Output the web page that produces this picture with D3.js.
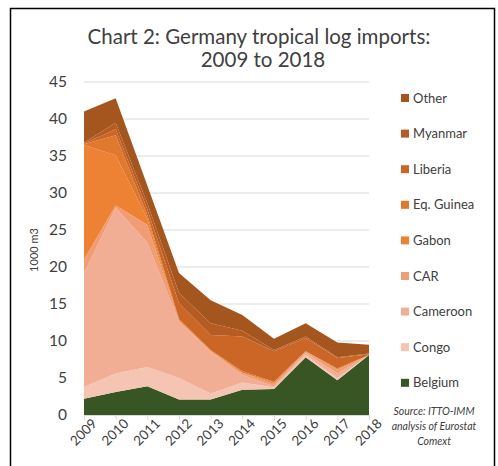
<!DOCTYPE html>
<html>
<head>
<meta charset="utf-8">
<script src="https://cdn.jsdelivr.net/npm/d3@7"></script>
<style>
  body { margin: 0; background: white; }
  text { font-family: Lato, "Open Sans", sans-serif; }
</style>
</head>
<body>
<div id="chart"></div>
<script>
// Data (1000 m3)
var years = [2009, 2010, 2011, 2012, 2013, 2014, 2015, 2016, 2017, 2018];
var belgium   = [2.2, 3.1, 3.9, 2.1, 2.1, 3.4, 3.5, 7.8, 4.7, 8.1];
var congo     = [1.6, 2.5, 2.6, 2.9, 0.8, 1.0, 0.2, 0.3, 0.3, 0.0];
var cameroon  = [15.4, 22.4, 16.8, 7.6, 5.6, 1.0, 0.2, 0.3, 0.6, 0.0];
var car       = [1.8, 0.3, 2.4, 0.2, 0.1, 0.3, 0.3, 0.2, 0.5, 0.0];
var gabon     = [15.5, 6.8, 0.8, 0.0, 0.1, 0.0, 0.2, 0.0, 0.2, 0.0];
var eqGuinea  = [0.1, 2.7, 0.5, 0.2, 0.1, 0.2, 0.1, 0.0, 0.0, 0.0];
var liberia   = [0.1, 0.8, 0.8, 2.1, 2.0, 4.7, 4.1, 1.8, 1.4, 0.1];
var myanmar   = [0.1, 0.9, 0.8, 1.4, 1.6, 0.8, 0.2, 0.2, 0.1, 0.1];
var other     = [4.2, 3.3, 2.4, 2.7, 3.1, 2.1, 1.5, 1.8, 2.0, 1.2];

var seriesNames = ['Belgium', 'Congo', 'Cameroon', 'CAR', 'Gabon', 'Eq. Guinea', 'Liberia', 'Myanmar', 'Other'];
var seriesValues = [belgium, congo, cameroon, car, gabon, eqGuinea, liberia, myanmar, other];
var colors = ['#375623', '#F5C4B2', '#F2AE95', '#F09C75', '#EE8234', '#E0782E', '#CB6627', '#B65C22', '#A5561F'];
var yTicks = [0, 5, 10, 15, 20, 25, 30, 35, 40, 45];

// Layout
var totalWidth = 498;
var totalHeight = 466;
var plot = { left: 84, right: 369, top: 82, bottom: 415 };

var x = d3.scaleLinear().domain([2009, 2018]).range([plot.left, plot.right]);
var y = d3.scaleLinear().domain([0, 45]).range([plot.bottom, plot.top]);

var svg = d3.select('#chart')
  .append('svg')
  .attr('width', totalWidth)
  .attr('height', totalHeight);

// Outer frame
svg.append('rect')
  .attr('x', 10.5)
  .attr('y', 8.5)
  .attr('width', 484)
  .attr('height', 480)
  .attr('fill', 'white')
  .attr('stroke', 'black')
  .attr('stroke-width', 1.5);

// Title
var title = svg.append('text')
  .attr('text-anchor', 'middle')
  .attr('fill', '#404040')
  .style('font-size', '20.5px');
title.append('tspan').attr('x', 259).attr('y', 44).text('Chart 2: Germany tropical log imports:');
title.append('tspan').attr('x', 263).attr('y', 67).text('2009 to 2018');

// Gridlines
svg.append('g')
  .selectAll('line')
  .data(yTicks.slice(1))
  .enter()
  .append('line')
  .attr('x1', plot.left)
  .attr('x2', plot.right)
  .attr('y1', function(d) { return y(d); })
  .attr('y2', function(d) { return y(d); })
  .attr('stroke', '#D9D9D9')
  .attr('stroke-width', 1);

// Stack the series
var table = years.map(function(yr, i) {
  var row = { year: yr };
  seriesNames.forEach(function(name, j) { row[name] = seriesValues[j][i]; });
  return row;
});
var stack = d3.stack().keys(seriesNames);
var layers = stack(table);

var area = d3.area()
  .x(function(d) { return x(d.data.year); })
  .y0(function(d) { return y(d[0]); })
  .y1(function(d) { return y(d[1]); });

svg.append('g')
  .selectAll('path')
  .data(layers)
  .enter()
  .append('path')
  .attr('d', area)
  .attr('fill', function(d, i) { return colors[i]; });

// Y axis labels
var yAxis = svg.append('g')
  .attr('transform', 'translate(' + (plot.left - 12) + ',0)')
  .call(d3.axisLeft(y).tickValues(yTicks).tickSize(0).tickPadding(5));
yAxis.select('.domain').remove();
yAxis.selectAll('text')
  .attr('fill', '#404040')
  .style('font-size', '15.5px')
  .style('font-family', 'Lato, "Open Sans", sans-serif');

// X axis
var xAxis = svg.append('g')
  .attr('transform', 'translate(0,' + plot.bottom + ')')
  .call(d3.axisBottom(x).tickValues(years).tickFormat(d3.format('d')).tickSize(5).tickSizeOuter(0));
xAxis.select('.domain').attr('stroke', '#D9D9D9');
xAxis.selectAll('line').attr('stroke', '#D9D9D9');
xAxis.selectAll('text')
  .attr('fill', '#404040')
  .style('font-size', '13.5px')
  .style('font-family', 'Lato, "Open Sans", sans-serif')
  .attr('text-anchor', 'end')
  .attr('dx', '0.2em')
  .attr('dy', '0.6em')
  .attr('transform', 'rotate(-45)');

// Y axis title
svg.append('text')
  .attr('transform', 'translate(38,250) rotate(-90)')
  .attr('text-anchor', 'middle')
  .attr('fill', '#404040')
  .style('font-size', '11px')
  .text('1000 m3');

// Legend, top entry is the top layer
var legendNames = seriesNames.slice().reverse();
var legendColors = colors.slice().reverse();
var legend = svg.append('g')
  .selectAll('g')
  .data(legendNames)
  .enter()
  .append('g')
  .attr('transform', function(d, i) { return 'translate(401,' + (98 + i * 35.6) + ')'; });

legend.append('rect')
  .attr('x', 0)
  .attr('y', -4)
  .attr('width', 8)
  .attr('height', 8)
  .attr('fill', function(d, i) { return legendColors[i]; });

legend.append('text')
  .attr('x', 12)
  .attr('dy', '0.35em')
  .attr('fill', '#404040')
  .style('font-size', '13px')
  .text(function(d) { return d; });

// Source note
var source = svg.append('text')
  .attr('text-anchor', 'middle')
  .attr('fill', '#404040')
  .style('font-size', '10.5px')
  .style('font-style', 'italic');
source.append('tspan').attr('x', 434).attr('y', 415).text('Source: ITTO-IMM');
source.append('tspan').attr('x', 434).attr('y', 430).text('analysis of Eurostat');
source.append('tspan').attr('x', 434).attr('y', 445).text('Comext');
</script>
</body>
</html>
